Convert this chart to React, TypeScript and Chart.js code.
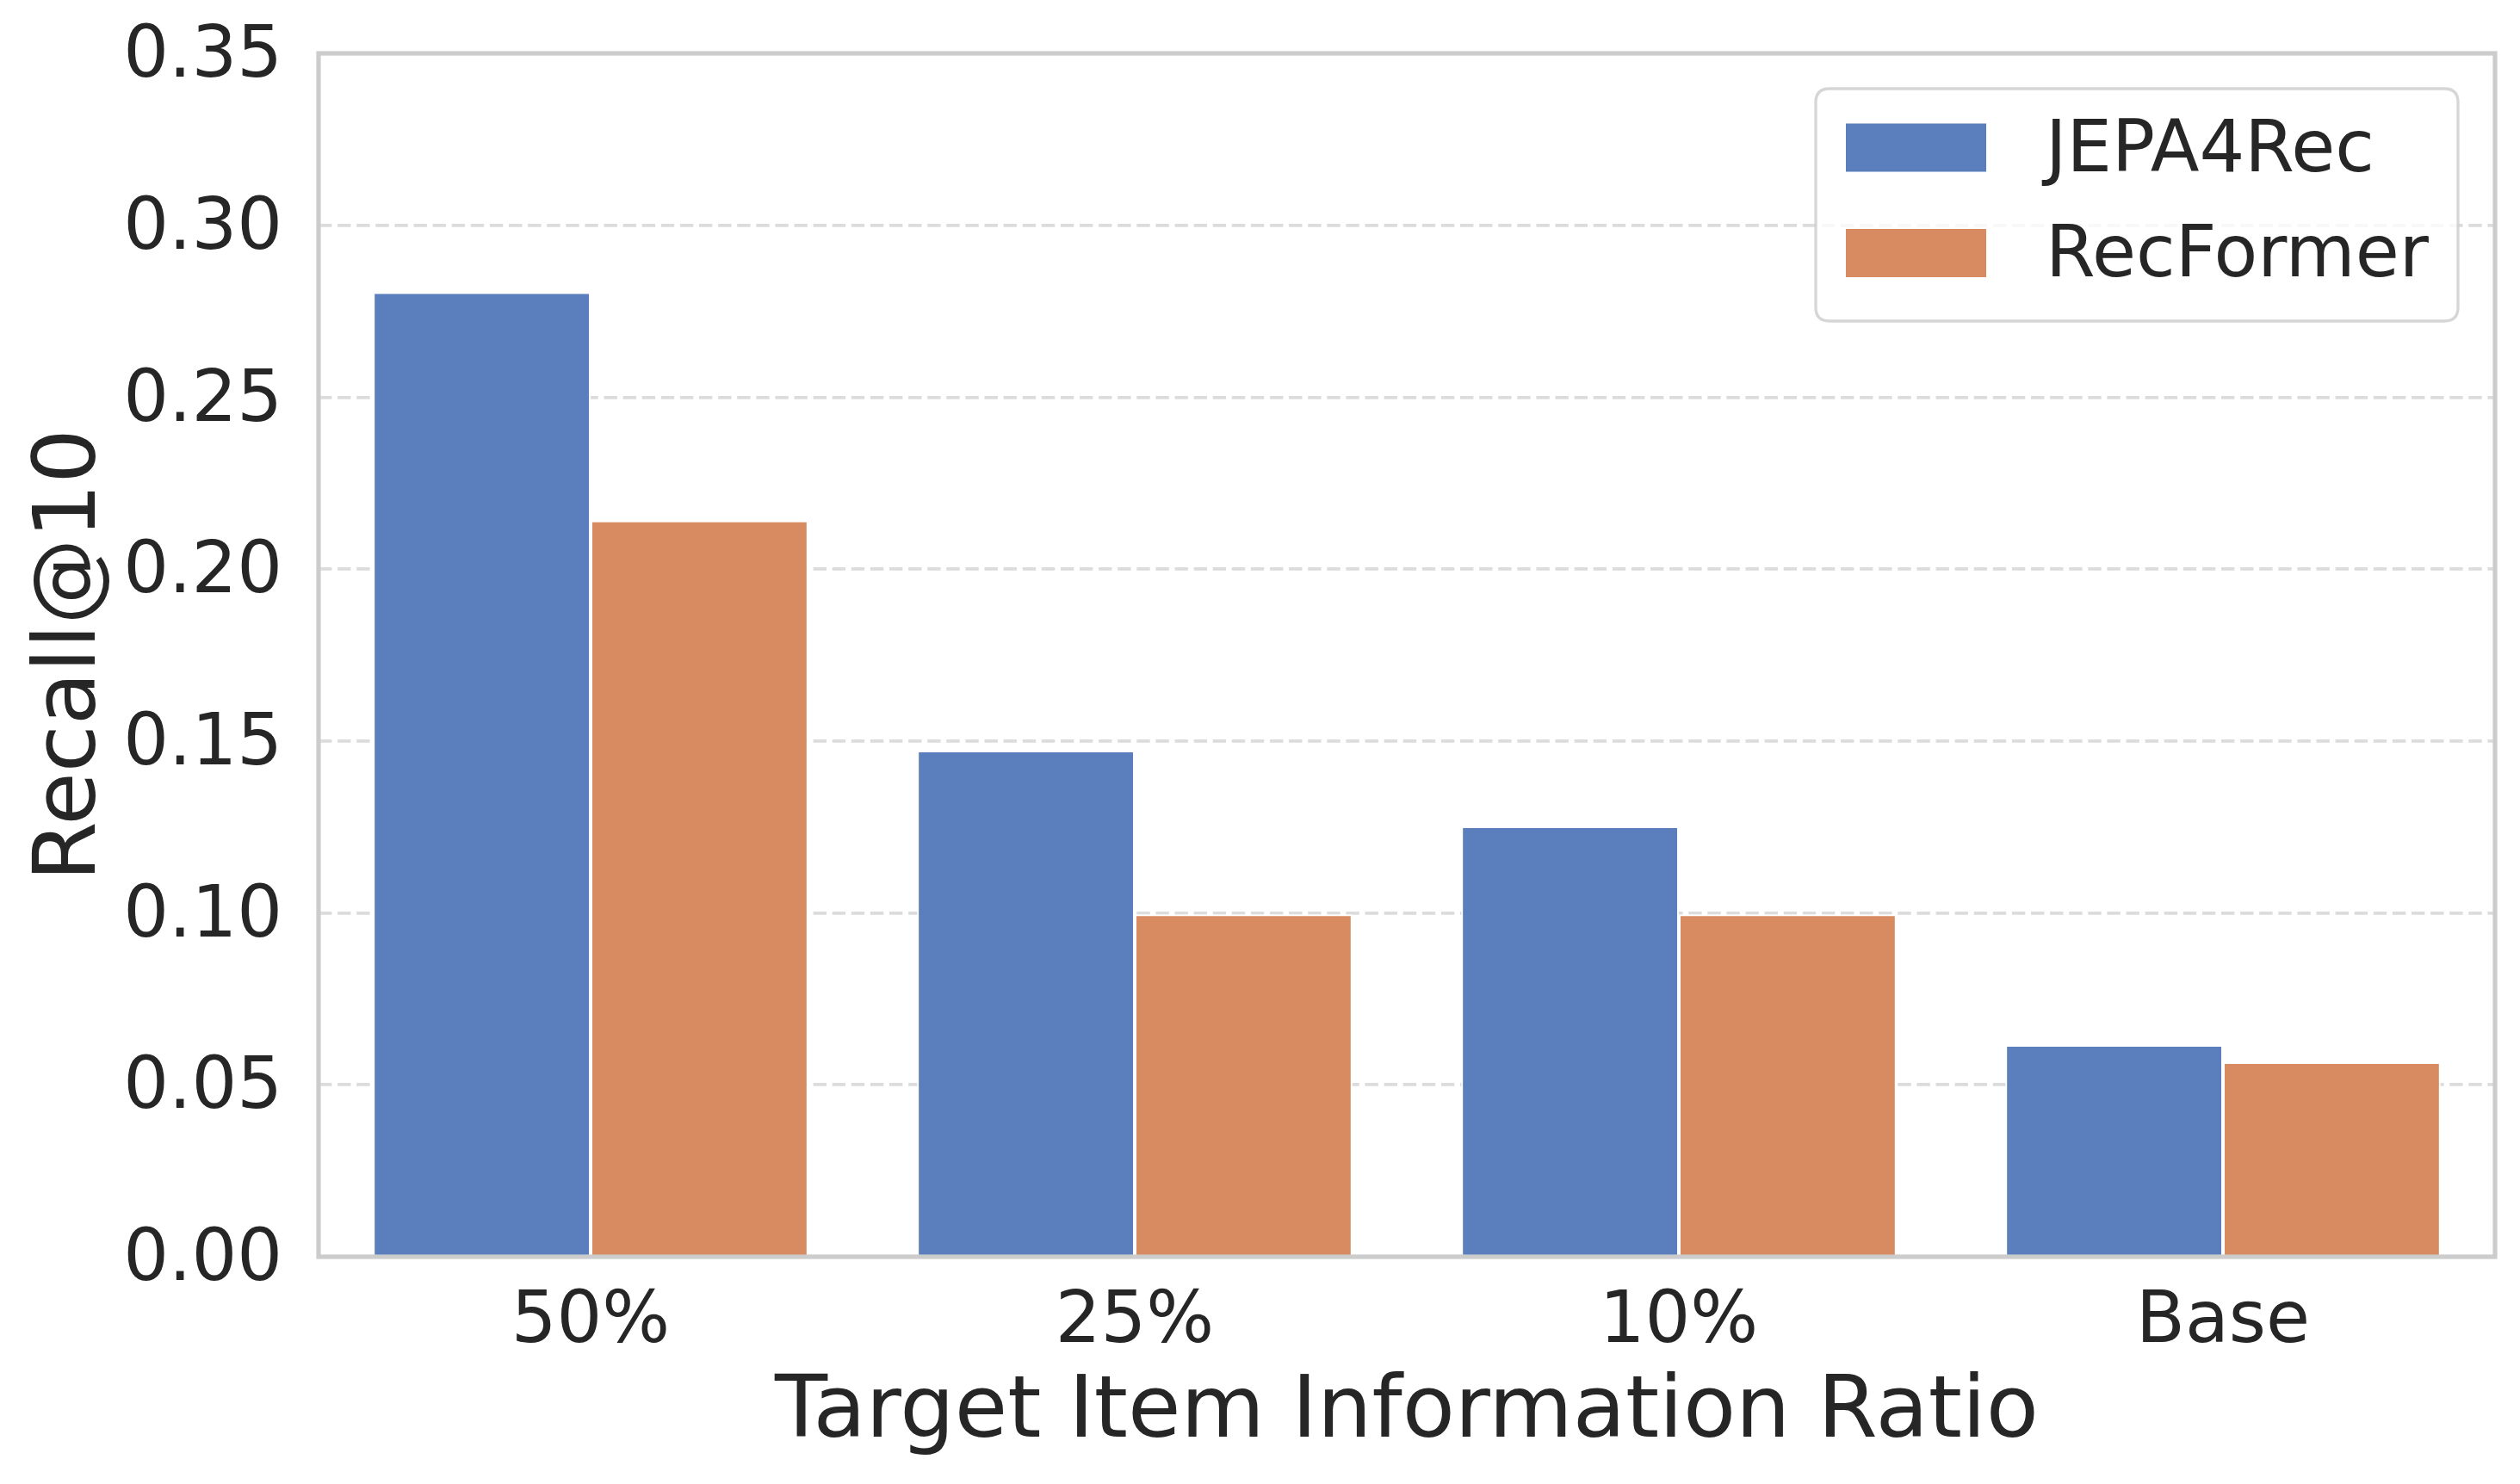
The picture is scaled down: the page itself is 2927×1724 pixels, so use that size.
import React, { useEffect, useRef } from "react";
import { Chart, registerables } from "chart.js";

Chart.register(...registerables);

const categories = ["50%", "25%", "10%", "Base"];
const seriesNames = ["JEPA4Rec", "RecFormer"];
const jepa4recValues = [0.2805, 0.1472, 0.1252, 0.0616];
const recformerValues = [0.2141, 0.0996, 0.0996, 0.0566];
const seriesColors = ["#5B7EBD", "#D88B60"];
const yMin = 0;
const yMax = 0.35;
const yStep = 0.05;
const xTitle = "Target Item Information Ratio";
const yTitle = "Recall@10";

const FONT = "'DejaVu Sans', 'Liberation Sans', sans-serif";
const TEXT = "#262626";

const framePlugin = {
  id: "mplFrame",
  afterDatasetsDraw(chart: any) {
    const { ctx, chartArea: ca } = chart;
    ctx.save();
    ctx.strokeStyle = "#cccccc";
    ctx.lineWidth = 5.2;
    ctx.strokeRect(ca.left, ca.top, ca.right - ca.left, ca.bottom - ca.top);
    ctx.restore();
  },
};

const legendPlugin = {
  id: "mplLegend",
  afterDraw(chart: any) {
    const { ctx, chartArea: ca } = chart;
    const ds = chart.data.datasets;
    const boxRight = ca.right - 43;
    const boxTop = ca.top + 41;
    const boxW = 746;
    const boxH = 270;
    const boxLeft = boxRight - boxW;
    const r = 16;
    ctx.save();
    ctx.beginPath();
    ctx.moveTo(boxLeft + r, boxTop);
    ctx.lineTo(boxRight - r, boxTop);
    ctx.quadraticCurveTo(boxRight, boxTop, boxRight, boxTop + r);
    ctx.lineTo(boxRight, boxTop + boxH - r);
    ctx.quadraticCurveTo(boxRight, boxTop + boxH, boxRight - r, boxTop + boxH);
    ctx.lineTo(boxLeft + r, boxTop + boxH);
    ctx.quadraticCurveTo(boxLeft, boxTop + boxH, boxLeft, boxTop + boxH - r);
    ctx.lineTo(boxLeft, boxTop + r);
    ctx.quadraticCurveTo(boxLeft, boxTop, boxLeft + r, boxTop);
    ctx.closePath();
    ctx.fillStyle = "rgba(255,255,255,0.8)";
    ctx.fill();
    ctx.strokeStyle = "rgba(204,204,204,0.8)";
    ctx.lineWidth = 3.3;
    ctx.stroke();

    const patchLeft = boxLeft + 35;
    const patchW = 163;
    const patchH = 56;
    const textX = boxLeft + 267;
    const rowCenters = [boxTop + 68.5, boxTop + 191];
    ctx.font = `83px ${FONT}`;
    ctx.textAlign = "left";
    ctx.textBaseline = "middle";
    ds.forEach((d: any, i: number) => {
      const cy = rowCenters[i];
      ctx.fillStyle = d.backgroundColor;
      ctx.fillRect(patchLeft, cy - patchH / 2, patchW, patchH);
      ctx.fillStyle = TEXT;
      ctx.fillText(d.label, textX, cy + 5.6);
    });
    ctx.restore();
  },
};

export default function App() {
  const ref = useRef<HTMLCanvasElement>(null);
  useEffect(() => {
    document.body.style.margin = "0";
    document.body.style.overflow = "hidden";
    Chart.defaults.font.family = FONT;
    const chart = new Chart(ref.current as HTMLCanvasElement, {
      type: "bar",
      data: {
        labels: categories,
        datasets: [
          {
            label: seriesNames[0],
            data: jepa4recValues,
            backgroundColor: seriesColors[0],
            borderColor: "#ffffff",
            borderWidth: { top: 2, left: 2, right: 2, bottom: 0 },
            borderSkipped: false,
            categoryPercentage: 0.8,
            barPercentage: 1.0,
          },
          {
            label: seriesNames[1],
            data: recformerValues,
            backgroundColor: seriesColors[1],
            borderColor: "#ffffff",
            borderWidth: { top: 2, left: 2, right: 2, bottom: 0 },
            borderSkipped: false,
            categoryPercentage: 0.8,
            barPercentage: 1.0,
          },
        ],
      },
      options: {
        responsive: false,
        maintainAspectRatio: false,
        devicePixelRatio: 1,
        animation: false,
        layout: { padding: { left: 0, right: 29, top: 62, bottom: 0 } },
        plugins: {
          legend: { display: false },
          tooltip: { enabled: false },
          title: { display: false },
        },
        scales: {
          x: {
            type: "category",
            offset: true,
            grid: { display: false, drawTicks: false },
            border: { display: false },
            ticks: {
              color: TEXT,
              font: { family: FONT, size: 83 },
              padding: 28,
              maxRotation: 0,
              autoSkip: false,
            },
            title: {
              display: true,
              text: xTitle,
              color: TEXT,
              font: { family: FONT, size: 100 },
              padding: { top: 0, bottom: 21 },
            },
            afterFit: (scale: any) => {
              scale.height = 264;
              scale.paddingLeft = 0;
              scale.paddingRight = 0;
            },
          },
          y: {
            type: "linear",
            min: yMin,
            max: yMax,
            grid: {
              display: true,
              drawTicks: false,
              color: "#dcdcdc",
              lineWidth: 3.8,
            },
            border: { display: false, dash: [15.4, 6.7] },
            ticks: {
              stepSize: yStep,
              color: TEXT,
              font: { family: FONT, size: 83 },
              padding: 42,
              labelOffset: 5.6,
              callback: (v: any) => Number(v).toFixed(2),
            },
            title: {
              display: true,
              text: yTitle,
              color: TEXT,
              font: { family: FONT, size: 100 },
              padding: { top: 24, bottom: 0 },
            },
            afterFit: (scale: any) => {
              scale.width = 370;
              scale.paddingTop = 0;
              scale.paddingBottom = 0;
            },
          },
        },
      },
      plugins: [framePlugin, legendPlugin],
    } as any);
    return () => chart.destroy();
  }, []);
  return (
    <canvas
      ref={ref}
      width={2927}
      height={1724}
      style={{ position: "absolute", left: 0, top: 0, width: "2927px", height: "1724px" }}
    />
  );
}
